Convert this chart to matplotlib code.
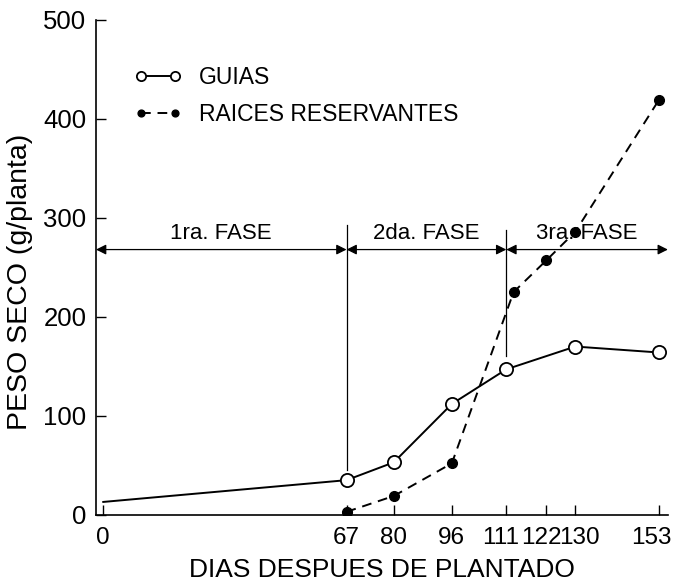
import matplotlib.pyplot as plt
from matplotlib.transforms import ScaledTranslation

plt.rcParams['font.family'] = ['Liberation Sans', 'DejaVu Sans']

# data
dias = [67, 80, 96, 111, 122, 130, 153]
guias_dias = [0, 67, 80, 96, 111, 130, 153]
guias = [13, 35, 53, 112, 147, 170, 164]
raices_dias = [67, 80, 96, 113, 122, 130, 153]
raices = [3, 19, 52, 225, 257, 286, 419]

# phase limits (days) and labels
fases = [(-2, 67, "1ra. FASE"), (67, 111, "2da. FASE"), (111, 155.5, "3ra. FASE")]
fase_y = 268

fig = plt.figure(figsize=(6.76, 5.87), dpi=100)
ax = fig.add_axes([0.142, 0.123, 0.846, 0.843])

ax.plot(guias_dias, guias, color='black', lw=1.4, marker='o', ms=9.5,
        mfc='white', mec='black', mew=1.3, markevery=list(range(1, len(guias))),
        label='GUIAS', zorder=3)
ax.plot(raices_dias, raices, color='black', lw=1.4, ls=(0, (5, 3.5)), marker='o',
        ms=7, mfc='black', mec='black', label='RAICES RESERVANTES', zorder=3)

# phase division lines
ax.plot([67, 67], [45, 293], color='black', lw=0.9)
ax.plot([111, 111], [160, 288], color='black', lw=0.9)

# phase arrows
for x0, x1, txt in fases:
    ax.annotate('', xy=(x1, fase_y), xytext=(x0, fase_y),
                arrowprops=dict(arrowstyle='<|-|>', color='black', lw=0.9,
                                mutation_scale=15, shrinkA=0, shrinkB=0))
    ax.text((x0 + x1) / 2, fase_y + 6, txt, ha='center', va='bottom', fontsize=16)

ax.set_xlim(-2, 155.5)
ax.set_ylim(0, 500)
ax.set_xticks([0] + dias)
ax.set_xticklabels(['0'] + [str(d) for d in dias])
ax.set_yticks([0, 100, 200, 300, 400, 500])
ax.tick_params(direction='in', length=7, width=1)
ax.tick_params(axis='y', labelsize=18.5, pad=7)
ax.tick_params(axis='x', labelsize=17.5, pad=9)

# three-digit day labels are set narrower in the original
shifts = {'111': -6, '122': -5, '130': 4, '153': -7}
for lab in ax.get_xticklabels():
    t = lab.get_text()
    if t in shifts:
        lab.set_family(['Liberation Sans Narrow', 'Liberation Sans'])
        lab.set_transform(lab.get_transform() +
                          ScaledTranslation(shifts[t] / 100, 0, fig.dpi_scale_trans))

ax.set_xlabel("DIAS DESPUES DE PLANTADO", fontsize=19, labelpad=6)
ax.set_ylabel("PESO SECO (g/planta)", fontsize=20.5)
ax.yaxis.set_label_coords(-0.11, 0.47)

ax.spines['top'].set_visible(False)
ax.spines['right'].set_visible(False)
ax.spines['left'].set_linewidth(1.2)
ax.spines['bottom'].set_linewidth(1.2)

ax.legend(loc='upper left', bbox_to_anchor=(0.05, 0.925), frameon=False,
          fontsize=16.5, numpoints=2, markerscale=0.7, handlelength=2.1,
          handletextpad=0.75, labelspacing=0.6, borderaxespad=0)

fig.savefig('out.png', dpi=100)
